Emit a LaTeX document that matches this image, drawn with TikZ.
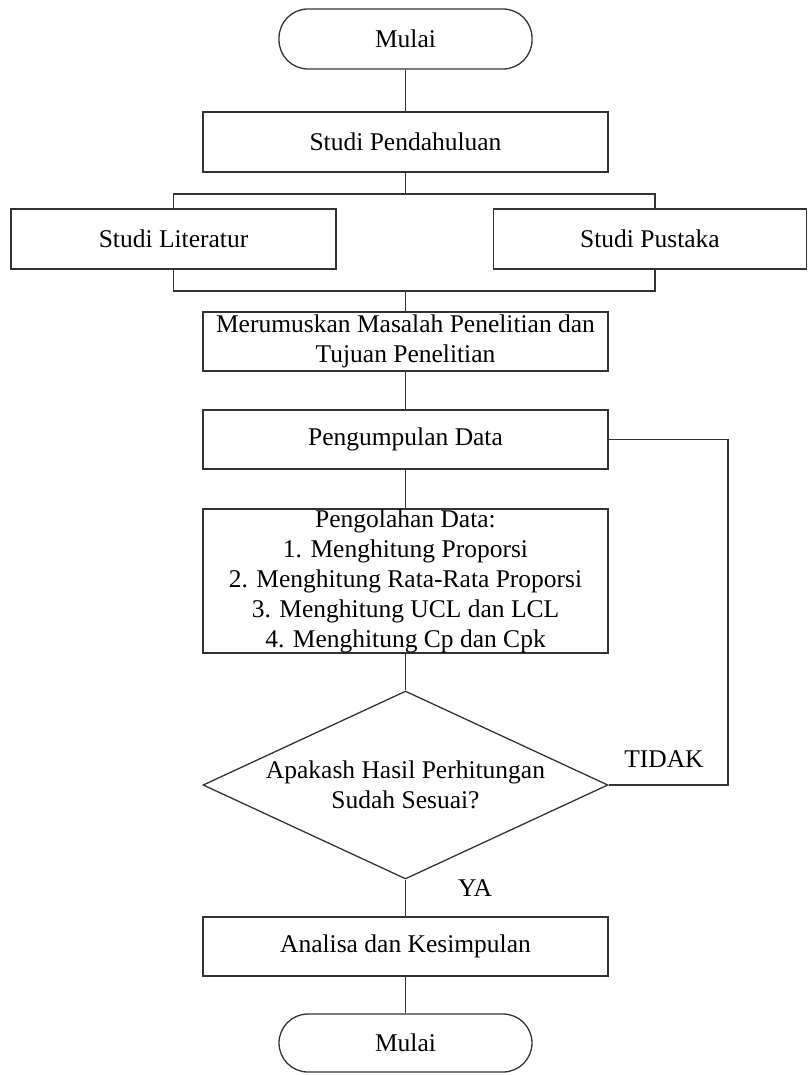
\documentclass[tikz,border=0pt]{standalone}
\usepackage{fontspec}
\setmainfont{Liberation Serif}
\usetikzlibrary{shapes.geometric}
\begin{document}
\begin{tikzpicture}[x=1pt,y=-1pt,
  every node/.style={font=\fontsize{25.5}{30}\selectfont, text=black},
  line/.style={draw=black!80, line width=1.3pt},
  box/.style={line, rectangle, inner sep=0pt, align=center, fill=white},
  term/.style={box, rounded corners=29pt},
  cond/.style={line, diamond, inner sep=0pt, minimum width=405pt, minimum height=188pt, fill=white},
  lbl/.style={inner sep=0pt, align=center}]
\useasboundingbox (0,0) rectangle (808,1075);
% nodes
\node[term, minimum width=253pt, minimum height=60pt] (m1) at (405.5,39) {Mulai};
\node[box, minimum width=405pt, minimum height=60pt] (pend) at (405.5,142) {Studi Pendahuluan};
\node[box, minimum width=325pt, minimum height=60pt] (lit) at (173.5,239) {Studi Literatur};
\node[box, minimum width=313pt, minimum height=60pt] (pus) at (650,239) {Studi Pustaka};
\node[box, minimum width=405pt, minimum height=59pt] (rumus) at (405.5,341.5) {Merumuskan Masalah Penelitian dan\\Tujuan Penelitian};
\node[box, minimum width=405pt, minimum height=59pt] (kumpul) at (405.5,439.5) {Pengumpulan Data};
\node[box, minimum width=405pt, minimum height=144pt] (olah) at (405.5,581) {Pengolahan Data:\\1. Menghitung Proporsi\\2. Menghitung Rata-Rata Proporsi\\3. Menghitung UCL dan LCL\\4. Menghitung Cp dan Cpk};
\node[cond] (dec) at (405.5,785) {};
\node[lbl] (dectext) at (dec.center) {Apakash Hasil Perhitungan\\Sudah Sesuai?};
\node[box, minimum width=405pt, minimum height=59pt] (anal) at (405.5,946.5) {Analisa dan Kesimpulan};
\node[term, minimum width=253pt, minimum height=58pt] (m2) at (405.5,1043) {Mulai};
\node[lbl] (tidak) at (664,759) {TIDAK};
\node[lbl] (ya) at (475,888) {YA};
% coordinates
\coordinate (tl) at (173.5,194);
\coordinate (tr) at (655,194);
\coordinate (bl) at (173.5,291);
\coordinate (br) at (655,291);
\coordinate (fr) at (728,439.5);
% connectors
\draw[line] (m1.south) -- (pend.north);
\draw[line] (pend.south) -- (pend.south |- tl);
\draw[line] (lit.north) -- (tl) -- (tr) -- (tr |- pus.north);
\draw[line] (lit.south) -- (bl) -- (br) -- (br |- pus.south);
\draw[line] (rumus.north |- bl) -- (rumus.north);
\draw[line] (rumus.south) -- (kumpul.north);
\draw[line] (kumpul.south) -- (olah.north);
\draw[line] (olah.south) -- (dec.north);
\draw[line] (dec.south) -- (anal.north);
\draw[line] (anal.south) -- (m2.north);
\draw[line] (dec.east) -- (dec.east -| fr) -- (fr) -- (kumpul.east);
\end{tikzpicture}
\end{document}
